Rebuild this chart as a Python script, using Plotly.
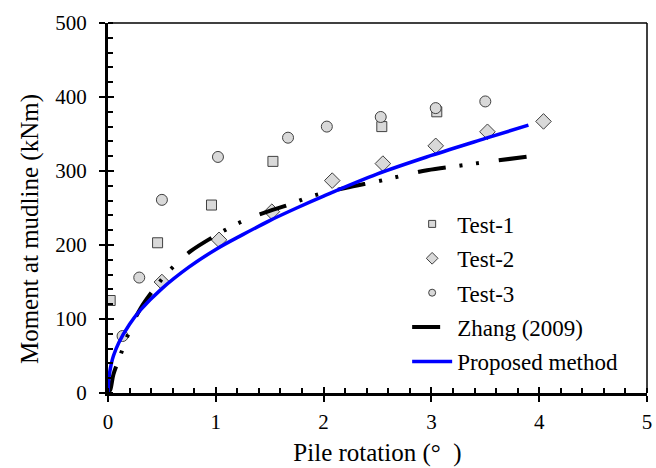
import plotly.graph_objects as go

# ---- data ----
test1_x = [0.02, 0.46, 0.96, 1.53, 2.54, 3.05]
test1_y = [125, 203, 254, 313, 360, 380]

test2_x = [0.50, 1.03, 1.52, 2.08, 2.55, 3.04, 3.52, 4.04]
test2_y = [150, 207, 245, 287, 310, 334, 353, 367]

test3_x = [0.135, 0.29, 0.50, 1.02, 1.67, 2.03, 2.53, 3.04, 3.50]
test3_y = [77, 156, 261, 319, 345, 360, 373, 385, 394]

zhang_x = [0, 0.02, 0.05, 0.1, 0.2, 0.3, 0.43, 0.53, 0.65, 0.77, 1.0, 1.16, 1.31,
           1.5, 1.67, 1.89, 2.2, 2.5, 2.65, 2.96, 3.25, 3.5, 3.92]
zhang_y = [0, 4, 25, 45, 84, 114, 141, 159, 177, 192, 213, 226, 236,
           246, 254, 266, 277, 286, 291, 301, 307, 312, 320]

prop_x = [0, 0.01, 0.03, 0.05, 0.1, 0.2, 0.3, 0.5, 0.75, 1.0, 1.25, 1.5, 1.75,
          2.0, 2.5, 3.0, 3.5, 3.9]
prop_y = [0, 22, 39, 50, 68, 93, 112, 141, 170, 194, 214, 233, 250,
          266, 296, 321, 344, 362]

FONT = "Liberation Serif"
fill = "#D9D9D9"
edge = "#404040"

fig = go.Figure()

# legend-only entries with the smaller legend symbols
for nm, sym, sz in [("Test-1", "square", 7), ("Test-2", "diamond", 9),
                    ("Test-3", "circle", 7)]:
    fig.add_trace(go.Scatter(x=[None], y=[None], mode="markers", name=nm,
                             legendgroup=nm,
                             marker=dict(symbol=sym, size=sz, color=fill,
                                         line=dict(color=edge, width=1))))

# data traces
fig.add_trace(go.Scatter(x=test1_x, y=test1_y, mode="markers", name="Test-1",
                         showlegend=False,
                         marker=dict(symbol="square", size=10, color=fill,
                                     line=dict(color=edge, width=1))))
fig.add_trace(go.Scatter(x=test2_x, y=test2_y, mode="markers", name="Test-2",
                         showlegend=False,
                         marker=dict(symbol="diamond", size=12, color=fill,
                                     line=dict(color=edge, width=1))))
fig.add_trace(go.Scatter(x=test3_x, y=test3_y, mode="markers", name="Test-3",
                         showlegend=False,
                         marker=dict(symbol="circle", size=11, color=fill,
                                     line=dict(color=edge, width=1))))
fig.add_trace(go.Scatter(x=zhang_x, y=zhang_y, mode="lines", name="Zhang (2009)",
                         legendgroup="zhang", line_shape="spline",
                         line=dict(color="black", width=4,
                                   dash="28px,14px,3px,14px,3px,20px")))
fig.add_trace(go.Scatter(x=prop_x, y=prop_y, mode="lines", name="Proposed method",
                         legendgroup="prop", line_shape="spline",
                         line=dict(color="#0000FF", width=3.5)))

# helper trace for overlay axes (inside halves of major ticks)
fig.add_trace(go.Scatter(x=[None], y=[None], xaxis="x2", yaxis="y2",
                         showlegend=False, hoverinfo="skip"))

axis_common = dict(showgrid=False, zeroline=False, showline=True,
                   linecolor="black", linewidth=3, ticks="outside",
                   ticklen=6, tickwidth=2, tickcolor="black",
                   ticklabeloverflow="allow",
                   tickfont=dict(family=FONT, size=21, color="black"))

fig.update_layout(
    width=656, height=468,
    margin=dict(l=108, r=4, t=23, b=75),
    paper_bgcolor="white", plot_bgcolor="white",
    font=dict(family=FONT, size=21, color="black"),
    xaxis=dict(range=[0, 5], dtick=1, tick0=0,
               title=dict(text="Pile rotation (°  )", font=dict(family=FONT, size=25),
                          standoff=11),
               minor=dict(dtick=0.2, ticks="inside", ticklen=5, tickwidth=2,
                          tickcolor="black"),
               ticklabelstandoff=2,
               **axis_common),
    yaxis=dict(range=[0, 500], dtick=100, tick0=0,
               minor=dict(dtick=20, ticks="inside", ticklen=5, tickwidth=2,
                          tickcolor="black"),
               ticklabelstandoff=8,
               **axis_common),
    xaxis2=dict(range=[0, 5], dtick=1, tick0=0, overlaying="x", anchor="y2",
                showgrid=False, zeroline=False, showline=False,
                ticks="inside", ticklen=6, tickwidth=2, tickcolor="black",
                showticklabels=False),
    yaxis2=dict(range=[0, 500], dtick=100, tick0=0, overlaying="y", anchor="x2",
                showgrid=False, zeroline=False, showline=False,
                ticks="inside", ticklen=6, tickwidth=2, tickcolor="black",
                showticklabels=False),
    legend=dict(x=0.555, y=0.515, xanchor="left", yanchor="top",
                bgcolor="rgba(0,0,0,0)", traceorder="grouped",
                tracegroupgap=1.5, itemwidth=40,
                font=dict(family=FONT, size=23, color="black")),
    showlegend=True,
)

# y-axis title (placed as in the reference, slightly below the plot centre)
fig.add_annotation(text="Moment at mudline (kNm)", textangle=-90,
                   xref="paper", yref="paper", x=0, y=0.443,
                   xanchor="center", yanchor="middle", xshift=-78,
                   showarrow=False, font=dict(family=FONT, size=25, color="black"))

# thin top and right frame lines
fig.add_shape(type="line", xref="paper", yref="paper", x0=0, x1=1, y0=1, y1=1,
              line=dict(color="black", width=1.5))
fig.add_shape(type="line", xref="paper", yref="paper", x0=1, x1=1, y0=0, y1=1,
              line=dict(color="black", width=1.5))

fig.write_html("out.html")
